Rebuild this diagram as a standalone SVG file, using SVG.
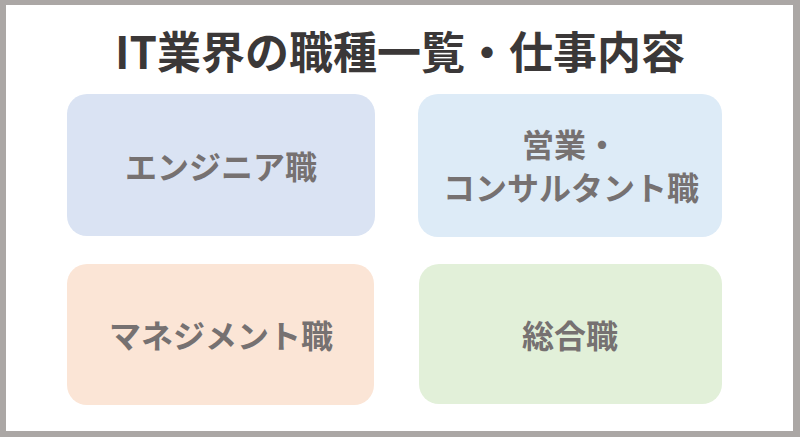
<svg xmlns="http://www.w3.org/2000/svg" width="800" height="437" viewBox="0 0 800 437">
  <style>
    .title { font-family: "Noto Sans CJK JP", "Noto Sans", sans-serif; font-weight: 700; font-size: 44px; fill: #3b3838; text-anchor: middle; }
    .label { font-family: "Noto Sans CJK JP", "Noto Sans", sans-serif; font-weight: 700; font-size: 32px; fill: #767171; text-anchor: middle; }
  </style>
  <rect x="0" y="0" width="800" height="437" fill="#aba7a5"/>
  <rect x="6" y="5" width="787" height="426" fill="#ffffff"/>
  <text class="title" x="400" y="69">IT業界の職種一覧・仕事内容</text>
  <g id="node-engineer">
    <rect x="67" y="94" width="308" height="142" rx="20" ry="20" fill="#dae3f3"/>
    <text class="label" x="221" y="179">エンジニア職</text>
  </g>
  <g id="node-sales">
    <rect x="418" y="94" width="304" height="143" rx="20" ry="20" fill="#ddebf7"/>
    <text class="label" x="570" y="157">営業・</text>
    <text class="label" x="571" y="200">コンサルタント職</text>
  </g>
  <g id="node-management">
    <rect x="67" y="264" width="307" height="141" rx="20" ry="20" fill="#fbe5d6"/>
    <text class="label" x="221" y="348">マネジメント職</text>
  </g>
  <g id="node-general">
    <rect x="419" y="264" width="303" height="140" rx="20" ry="20" fill="#e2f0d9"/>
    <text class="label" x="570" y="348">総合職</text>
  </g>
  <g id="connectors"></g>
</svg>
